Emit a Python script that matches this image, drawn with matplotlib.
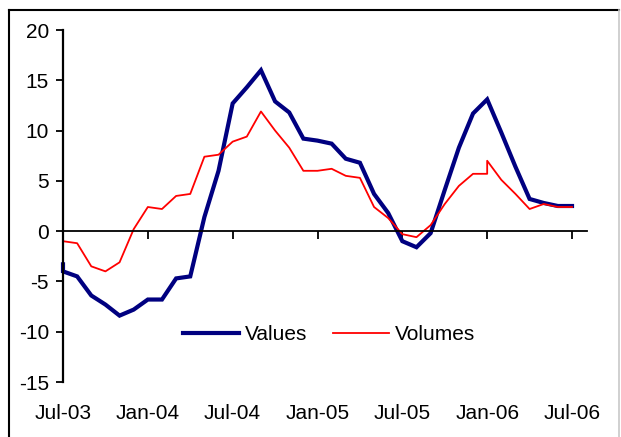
import matplotlib
matplotlib.use("Agg")
import matplotlib.pyplot as plt
from matplotlib.lines import Line2D

plt.rcParams["font.family"] = ["Liberation Sans", "DejaVu Sans"]
plt.rcParams["axes.unicode_minus"] = False

# month index from Jul-03 (0) to Jul-06 (36); some dates appear twice
values_x = [0, 0, 1, 2, 3, 4, 5, 6, 7, 8, 9, 10, 11, 12, 13, 14, 15, 16, 17, 18,
            19, 20, 21, 22, 23, 24, 25, 26, 27, 28, 29, 30, 31, 32, 33, 34, 35, 36]
values = [-3.3, -4.0, -4.5, -6.4, -7.3, -8.4, -7.8, -6.8, -6.8, -4.7, -4.5, 1.4,
          6.0, 12.7, 14.3, 16.0, 12.9, 11.8, 9.2, 9.0, 8.7, 7.2, 6.8, 3.7, 1.8,
          -1.0, -1.6, -0.2, 4.1, 8.3, 11.7, 13.1, 9.8, 6.4, 3.2, 2.8, 2.5, 2.5]

volumes_x = [0, 1, 2, 3, 4, 5, 6, 7, 8, 9, 10, 11, 12, 13, 14, 15, 16, 17, 18,
             19, 20, 21, 22, 23, 24, 25, 26, 27, 28, 29, 30, 30, 31, 32, 33, 34, 35, 36]
volumes = [-1.0, -1.2, -3.5, -4.0, -3.1, 0.2, 2.4, 2.2, 3.5, 3.7, 7.4, 7.6, 8.9,
           9.4, 11.9, 10.0, 8.3, 6.0, 6.0, 6.2, 5.5, 5.3, 2.4, 1.3, -0.3, -0.6,
           0.6, 2.7, 4.5, 5.7, 5.7, 7.0, 5.1, 3.7, 2.2, 2.7, 2.4, 2.4]

tick_pos = [0, 6, 12, 18, 24, 30, 36]
tick_labels = ["Jul-03", "Jan-04", "Jul-04", "Jan-05", "Jul-05", "Jan-06", "Jul-06"]
yticks = [-15, -10, -5, 0, 5, 10, 15, 20]

W, H = 621, 437
fig = plt.figure(figsize=(W / 100, H / 100), dpi=100)
ax = fig.add_axes([63 / W, 1 - 382 / H, (587 - 63) / W, (382 - 30) / H])

ax.plot(values_x, values, color="#000080", lw=3.0, label="Values",
        solid_joinstyle="miter", clip_on=False)
ax.plot(volumes_x, volumes, color="#ff0000", lw=1.3, label="Volumes", clip_on=False)

ax.set_xlim(0, 37.06)
ax.set_ylim(-15, 20)
ax.set_yticks(yticks)
ax.tick_params(axis="y", direction="out", length=5, width=1.3, pad=5, labelsize=15)

for s in ["top", "right"]:
    ax.spines[s].set_visible(False)
ax.spines["left"].set_linewidth(1.6)
ax.spines["bottom"].set_position(("data", 0))
ax.spines["bottom"].set_linewidth(1.3)
ax.set_xticks(tick_pos)
ax.tick_params(axis="x", direction="out", length=6, width=1.3, labelbottom=False)

sec = ax.secondary_xaxis(0)
sec.spines["bottom"].set_visible(False)
sec.set_xticks(tick_pos, tick_labels)
sec.tick_params(axis="x", length=0, pad=16, labelsize=15)

ax.legend(loc="center", bbox_to_anchor=(329 / W, 1 - 335 / H),
          bbox_transform=fig.transFigure, ncol=2, frameon=False, fontsize=15,
          handlelength=2.7, handletextpad=0.3, columnspacing=1.2)

# outer chart frame
fig.add_artist(Line2D([9 / W, 9 / W], [0, 1 - 10 / H], color="black", lw=1.5,
                      transform=fig.transFigure))
fig.add_artist(Line2D([9 / W, 619 / W], [1 - 10 / H, 1 - 10 / H], color="black",
                      lw=1.5, transform=fig.transFigure))
fig.add_artist(Line2D([619 / W, 619 / W], [0, 1 - 10 / H], color="#c8c8c8", lw=1.2,
                      transform=fig.transFigure))

fig.savefig("out.png", dpi=100)
